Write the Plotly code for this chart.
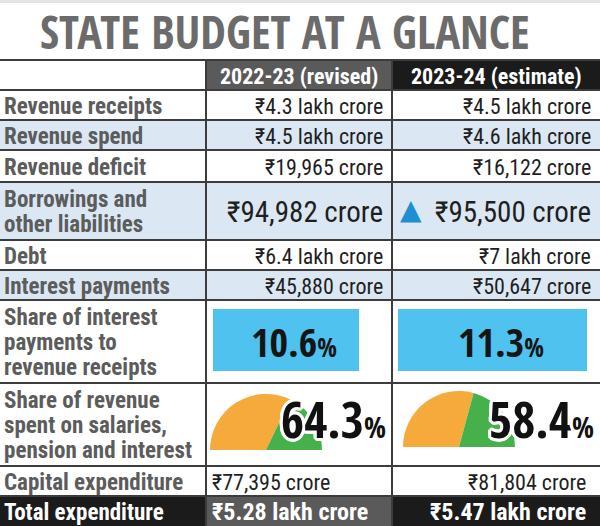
import plotly.graph_objects as go

# ---------------- data ----------------
title = "STATE BUDGET AT A GLANCE"
col_headers = ["2022-23 (revised)", "2023-24 (estimate)"]
row_labels = [
    "Revenue receipts",
    "Revenue spend",
    "Revenue deficit",
    "Borrowings and<br>other liabilities",
    "Debt",
    "Interest payments",
    "Share of interest<br>payments to<br>revenue receipts",
    "Share of revenue<br>spent on salaries,<br>pension and interest",
    "Capital expenditure",
    "Total expenditure",
]
revenue_receipts = ["₹4.3 lakh crore", "₹4.5 lakh crore"]
revenue_spend = ["₹4.5 lakh crore", "₹4.6 lakh crore"]
revenue_deficit = ["₹19,965 crore", "₹16,122 crore"]
borrowings = ["₹94,982 crore", "₹95,500 crore"]
debt = ["₹6.4 lakh crore", "₹7 lakh crore"]
interest_payments = ["₹45,880 crore", "₹50,647 crore"]
interest_share_pct = [10.6, 11.3]
salary_pension_interest_pct = [64.3, 58.4]
capital_expenditure = ["₹77,395 crore", "₹81,804 crore"]
total_expenditure = ["₹5.28 lakh crore", "₹5.47 lakh crore"]

# ---------------- layout / style ----------------
W, H = 600, 526
COLS = [0, 206, 392, 600]
ROWS = [60, 90, 120, 150, 182, 240, 270, 300, 383, 466, 496, 526]  # header + 10 rows
LINE_GAP = 25
COND = "Roboto Condensed, DejaVu Sans Condensed, sans-serif"
HEAVY = "Open Sans Condensed, Roboto Condensed, sans-serif"
LABEL_C = "#5c5c5c"
VAL_C = "#1f1f1f"
LINE_C = "#3c3c3c"
BLUE_ROW = "#dbe8f4"
DARK_GRAY = "#5a5a5a"
BLACK = "#1b1b1b"
BOX_BLUE = "#4fc2ef"
ORANGE = "#f6aa3c"
GREEN = "#46b14a"
TRI_BLUE = "#1d8fd2"

shaded_rows = [1, 3, 5]  # data-row indices with light-blue fill

fig = go.Figure()
shapes = []
ann = []


def rect(x0, y0, x1, y1, color):
    shapes.append(dict(type="rect", xref="x", yref="y", x0=x0, x1=x1, y0=y0, y1=y1,
                       fillcolor=color, line=dict(width=0), layer="below"))


def line(x0, y0, x1, y1, w=2):
    shapes.append(dict(type="line", xref="x", yref="y", x0=x0, x1=x1, y0=y0, y1=y1,
                       line=dict(color=LINE_C, width=w), layer="below"))


def text(x, y, s, size, color, bold=False, xanchor="left", family=COND, shadow=None):
    f = dict(family=family, size=size, color=color, weight=700 if bold else 400)
    if shadow:
        f["shadow"] = shadow
    ann.append(dict(x=x, y=y, xref="x", yref="y", text=s, showarrow=False,
                    xanchor=xanchor, yanchor="middle", align="left", font=f))


# top strip + title
rect(0, 0, W, 3, "#e4e4e4")
text(285, 31, title, 46, "#6b6b6b", bold=True, xanchor="center", family=HEAVY)

# header row
rect(COLS[1], ROWS[0], COLS[2], ROWS[1], DARK_GRAY)
rect(COLS[2], ROWS[0], COLS[3], ROWS[1], BLACK)
for j, h in enumerate(col_headers):
    text((COLS[j + 1] + COLS[j + 2]) / 2, (ROWS[0] + ROWS[1]) / 2 + 1, h, 22, "white", bold=True, xanchor="center")

# shaded rows
for r in shaded_rows:
    rect(0, ROWS[r + 1], W, ROWS[r + 2], BLUE_ROW)

# total row fill
rect(0, ROWS[10], COLS[1], ROWS[11], BLACK)
rect(COLS[1], ROWS[10], COLS[2], ROWS[11], DARK_GRAY)
rect(COLS[2], ROWS[10], COLS[3], ROWS[11], BLACK)

# grid lines
for y in ROWS[:-1]:
    line(0, y, W, y)
for x in COLS[1:3]:
    line(x, ROWS[0], x, ROWS[-1])

# row labels (one annotation per line for tight line spacing)
for i, lab in enumerate(row_labels):
    yc = (ROWS[i + 1] + ROWS[i + 2]) / 2
    color = "white" if i == 9 else LABEL_C
    parts = lab.split("<br>")
    n = len(parts)
    for k, part in enumerate(parts):
        text(2, yc + 1 + (k - (n - 1) / 2) * LINE_GAP, part, 23, color, bold=True)

# simple money rows
simple = {0: revenue_receipts, 1: revenue_spend, 2: revenue_deficit, 4: debt, 5: interest_payments}
for i, vals in simple.items():
    yc = (ROWS[i + 1] + ROWS[i + 2]) / 2
    for j, v in enumerate(vals):
        text(COLS[j + 2] - 7, yc + 1, v, 22, VAL_C, xanchor="right")

# borrowings (larger)
yc = (ROWS[4] + ROWS[5]) / 2
for j, v in enumerate(borrowings):
    text(COLS[j + 2] - 7, yc + 1, v, 29, VAL_C, xanchor="right")
text(COLS[2] + 6, yc - 2, "▲", 28, TRI_BLUE, family="DejaVu Sans")

# interest share boxes
box_x = [(213, 359), (398, 587)]
for j, p in enumerate(interest_share_pct):
    x0, x1 = box_x[j]
    rect(x0, 309, x1, 371, BOX_BLUE)
    text((x0 + x1) / 2 + 8, 341, f"{p:.1f}<span style='font-size:26px'>%</span>", 40, "#151515",
         bold=True, xanchor="center", family=HEAVY)

# gauges (semicircle pies)
gauge_cx = [266, 459]
gauge_cy = [450, 447]
R = 56
for j, p in enumerate(salary_pension_interest_pct):
    cx, cy = gauge_cx[j], gauge_cy[j]
    fig.add_trace(go.Pie(
        values=[p, 100 - p, 100],
        marker=dict(colors=[ORANGE, GREEN, "rgba(0,0,0,0)"], line=dict(width=0)),
        sort=False, direction="clockwise", rotation=-90,
        textinfo="none", hoverinfo="skip", showlegend=False,
        domain=dict(x=[(cx - R) / W, (cx + R) / W], y=[1 - (cy + R) / H, 1 - (cy - R) / H]),
    ))

outline = ", ".join(f"{dx}px {dy}px 0 #ffffff" for dx, dy in
                    [(3, 0), (-3, 0), (0, 3), (0, -3), (2, 2), (-2, 2), (2, -2), (-2, -2),
                     (3, 1), (3, -1), (-3, 1), (-3, -1), (1, 3), (-1, 3), (1, -3), (-1, -3)])
pct_x = [279, 487]
for j, p in enumerate(salary_pension_interest_pct):
    text(pct_x[j], 419, f"{p:.1f}<span style='font-size:29px'>%</span>", 50, "#111111",
         bold=True, shadow=outline, family=HEAVY)

# capital expenditure
yc = (ROWS[9] + ROWS[10]) / 2
text(COLS[1] + 4, yc + 1, capital_expenditure[0], 22, VAL_C)
text(COLS[3] - 12, yc + 1, capital_expenditure[1], 22, VAL_C, xanchor="right")

# total expenditure
yc = (ROWS[10] + ROWS[11]) / 2
text(COLS[1] + 4, yc + 1, total_expenditure[0], 24, "white", bold=True)
text(COLS[3] - 12, yc + 1, total_expenditure[1], 24, "white", bold=True, xanchor="right")

fig.update_layout(
    width=W, height=H, margin=dict(l=0, r=0, t=0, b=0),
    paper_bgcolor="white", plot_bgcolor="rgba(0,0,0,0)",
    xaxis=dict(range=[0, W], visible=False, fixedrange=True),
    yaxis=dict(range=[H, 0], visible=False, fixedrange=True),
    shapes=shapes, annotations=ann, showlegend=False,
)
fig.write_html("out.html", config={"displayModeBar": False},
               post_script="document.body.style.margin='0';")
